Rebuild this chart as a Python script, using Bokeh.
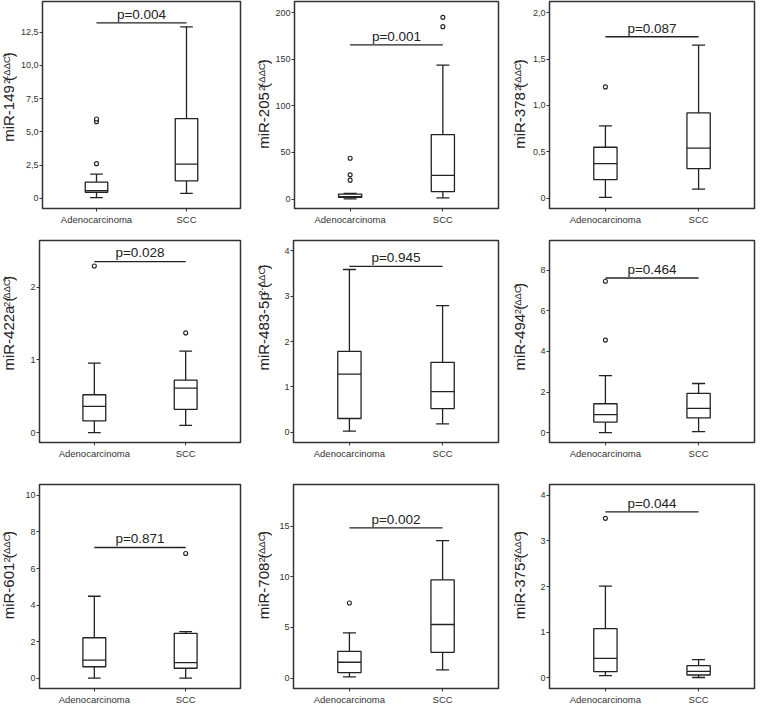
import math
from bokeh.plotting import figure
from bokeh.layouts import column, row
from bokeh.models import FixedTicker, Range1d, ColumnDataSource
from bokeh.core.properties import value
from bokeh.embed import file_html
from bokeh.resources import INLINE

# ---------------- data ----------------
genes = ["miR-149", "miR-205", "miR-378", "miR-422a", "miR-483-5p",
         "miR-494", "miR-601", "miR-708", "miR-375"]
groups = ["Adenocarcinoma", "SCC"]
p_texts = ["p=0.004", "p=0.001", "p=0.087", "p=0.028", "p=0.945",
           "p=0.464", "p=0.871", "p=0.002", "p=0.044"]
p_bar_y = [13.2, 165.5, 1.74, 2.35, 3.66, 7.62, 7.15, 14.83, 3.63]

adeno_low = [0.05, 0.3, 0.01, 0.0, 0.02, 0.0, 0.0, 0.13, 0.05]
adeno_q1 = [0.46, 1.8, 0.20, 0.16, 0.30, 0.51, 0.62, 0.55, 0.14]
adeno_med = [0.58, 2.5, 0.374, 0.36, 1.28, 0.88, 0.98, 1.57, 0.43]
adeno_q3 = [1.22, 5.4, 0.55, 0.52, 1.78, 1.42, 2.21, 2.65, 1.08]
adeno_high = [1.83, 6.2, 0.78, 0.955, 3.59, 2.81, 4.48, 4.47, 2.01]
adeno_out = [[2.61, 5.77, 5.97], [20.3, 26.0, 43.8], [1.2], [2.29], [],
             [4.56, 7.46], [], [7.41], [3.49]]

scc_low = [0.38, 1.4, 0.098, 0.10, 0.18, 0.05, 0.0, 0.81, 0.01]
scc_q1 = [1.32, 8.0, 0.32, 0.32, 0.52, 0.72, 0.54, 2.55, 0.065]
scc_med = [2.58, 25.4, 0.54, 0.61, 0.895, 1.19, 0.85, 5.29, 0.145]
scc_q3 = [6.0, 69.2, 0.92, 0.72, 1.54, 1.93, 2.45, 9.7, 0.27]
scc_high = [12.9, 143.8, 1.65, 1.12, 2.79, 2.42, 2.54, 13.56, 0.40]
scc_out = [[], [185.0, 195.0], [], [1.37], [], [], [6.82], [], []]

y_ticks = [[0, 2.5, 5, 7.5, 10, 12.5], [0, 50, 100, 150, 200], [0, 0.5, 1, 1.5, 2],
           [0, 1, 2], [0, 1, 2, 3, 4], [0, 2, 4, 6, 8], [0, 2, 4, 6, 8, 10],
           [0, 5, 10, 15], [0, 1, 2, 3, 4]]
y_tick_labels = [["0", "2,5", "5,0", "7,5", "10,0", "12,5"],
                 ["0", "50", "100", "150", "200"],
                 ["0", "0,5", "1,0", "1,5", "2,0"],
                 ["0", "1", "2"], ["0", "1", "2", "3", "4"],
                 ["0", "2", "4", "6", "8"], ["0", "2", "4", "6", "8", "10"],
                 ["0", "5", "10", "15"], ["0", "1", "2", "3", "4"]]
unit_sup = "2-ΔΔCt"

# ---------------- layout config ----------------
y_ranges = [(-0.76, 14.8), (-10.1, 212), (-0.11, 2.12), (-0.136, 2.64), (-0.23, 4.23),
            (-0.49, 9.47), (-0.57, 10.6), (-1.02, 19.1), (-0.23, 4.23)]
X0, X1 = 0.4, 2.6
MAIN_FS, SUP_FS, P_FS = 15, 9.5, 13.5
ASC, DESC = 0.905, 0.212       # font em-box ascent / descent
lab_w = [17, 17, 17]           # width of the y-label strip in each column
col_w = [238, 239, 230]
col_bl = [22, 21, 21]
col_br = [15, 13, 4]
row_h = [236, 236, 236]
row_bt = [1, 4, 12]
row_bb = [28, 30, 20]
label_bottom_px = [48, 40, 40, 54, 54, 54, 60, 60, 60]

INK = "#222222"
FONT = "Liberation Sans"
LW = 1.3
BOX_W = 0.25
CAP_W = 0.14
MID = 0.35    # distance (em) from the text's middle anchor to its baseline

AW = {'m': 833, 'i': 222, 'R': 722, '-': 333, 'a': 556, 'p': 556, ' ': 278,
      '(': 333, ')': 333, 'Δ': 668, 'C': 722, 't': 278}


def tw(s, size):
    return sum(AW.get(c, 556) for c in s) / 1000.0 * size


def make_label_strip(k):
    r, c = divmod(k, 3)
    w, h = lab_w[c], row_h[r]
    q = figure(width=w, height=h, x_range=Range1d(0, w), y_range=Range1d(0, h),
               output_backend="svg", toolbar_location=None,
               min_border_left=0, min_border_right=0, min_border_top=0, min_border_bottom=0)
    q.axis.visible = False
    q.grid.visible = False
    q.outline_line_color = None
    q.background_fill_color = "white"
    q.border_fill_color = "white"
    main = genes[k] + " ("
    xb = w - DESC * MAIN_FS - 0.3      # baseline of the main label
    ya = row_bb[r] + label_bottom_px[k]
    ys = ya + tw(main, MAIN_FS)
    yc = ys + tw(unit_sup, SUP_FS)
    common = dict(angle=math.pi / 2, text_font=value(FONT), text_color=INK,
                  text_align="left", text_baseline="middle")
    q.text(x=[xb - MID * MAIN_FS], y=[ya], text=[main],
           text_font_size=f"{MAIN_FS}px", **common)
    q.text(x=[xb - 4 - MID * SUP_FS], y=[ys], text=[unit_sup],
           text_font_size=f"{SUP_FS}px", **common)
    q.text(x=[xb - MID * MAIN_FS], y=[yc], text=[")"],
           text_font_size=f"{MAIN_FS}px", **common)
    return q


def make_panel(k):
    r, c = divmod(k, 3)
    w, h = col_w[c], row_h[r]
    bl, br, bt, bb = col_bl[c], col_br[c], row_bt[r], row_bb[r]
    y0, y1 = y_ranges[k]
    p = figure(width=w, height=h, x_range=Range1d(X0, X1), y_range=Range1d(y0, y1),
               output_backend="svg", toolbar_location=None,
               min_border_left=bl, min_border_right=br,
               min_border_top=bt, min_border_bottom=bb)
    p.xgrid.visible = False
    p.ygrid.visible = False
    p.outline_line_color = "#333333"
    p.outline_line_width = 1.5
    p.background_fill_color = "white"
    p.border_fill_color = "white"

    xs = [i + 1 for i in range(len(groups))]
    p.xaxis.ticker = FixedTicker(ticks=xs)
    p.xaxis.major_label_overrides = {x: g for x, g in zip(xs, groups)}
    p.yaxis.ticker = FixedTicker(ticks=y_ticks[k])
    p.yaxis.major_label_overrides = {t: l for t, l in zip(y_ticks[k], y_tick_labels[k])}
    for ax in (p.xaxis, p.yaxis):
        ax.axis_line_color = None
        ax.major_tick_out = 3
        ax.major_tick_in = 0
        ax.major_tick_line_color = "#333333"
        ax.minor_tick_line_color = None
        ax.major_label_text_font = FONT
        ax.major_label_text_color = "#333333"
    p.xaxis.major_label_text_font_size = "9.5px"
    p.yaxis.major_label_text_font_size = "9px"
    p.yaxis.major_label_standoff = 1
    p.xaxis.major_label_standoff = 2

    src = ColumnDataSource(dict(
        x=xs,
        low=[adeno_low[k], scc_low[k]], q1=[adeno_q1[k], scc_q1[k]],
        med=[adeno_med[k], scc_med[k]], q3=[adeno_q3[k], scc_q3[k]],
        high=[adeno_high[k], scc_high[k]],
        bl=[x - BOX_W / 2 for x in xs], br=[x + BOX_W / 2 for x in xs],
        cl=[x - CAP_W / 2 for x in xs], cr=[x + CAP_W / 2 for x in xs]))
    # whiskers + caps
    p.segment(x0='x', y0='q3', x1='x', y1='high', source=src, line_color=INK, line_width=LW)
    p.segment(x0='x', y0='q1', x1='x', y1='low', source=src, line_color=INK, line_width=LW)
    p.segment(x0='cl', y0='high', x1='cr', y1='high', source=src, line_color=INK, line_width=LW)
    p.segment(x0='cl', y0='low', x1='cr', y1='low', source=src, line_color=INK, line_width=LW)
    # boxes + medians
    p.vbar(x='x', width=BOX_W, bottom='q1', top='q3', source=src,
           fill_color="white", line_color=INK, line_width=LW)
    p.segment(x0='bl', y0='med', x1='br', y1='med', source=src, line_color=INK, line_width=LW)
    # outliers
    ox, oy = [], []
    for x, outs in zip(xs, [adeno_out[k], scc_out[k]]):
        ox += [x] * len(outs)
        oy += outs
    if ox:
        p.scatter(x=ox, y=oy, marker="circle", size=4, line_color=INK,
                  fill_color="white", line_width=1.1)

    fh = h - bt - bb
    pyy = (y1 - y0) / fh

    # p-value bar and text (baseline ~4 px above the bar)
    p.segment(x0=[xs[0]], y0=[p_bar_y[k]], x1=[xs[1]], y1=[p_bar_y[k]],
              line_color=INK, line_width=LW)
    p.text(x=[(xs[0] + xs[1]) / 2], y=[p_bar_y[k] + (4 + MID * P_FS) * pyy],
           text=[p_texts[k]], text_font=value(FONT), text_font_size=f"{P_FS}px",
           text_color=INK, text_align="center", text_baseline="middle")
    return p


rows = []
for r in range(3):
    items = []
    for c in range(3):
        k = r * 3 + c
        items.append(make_label_strip(k))
        items.append(make_panel(k))
    rows.append(row(*items))
layout = column(*rows)

open("out.html", "w").write(file_html(layout, INLINE))
